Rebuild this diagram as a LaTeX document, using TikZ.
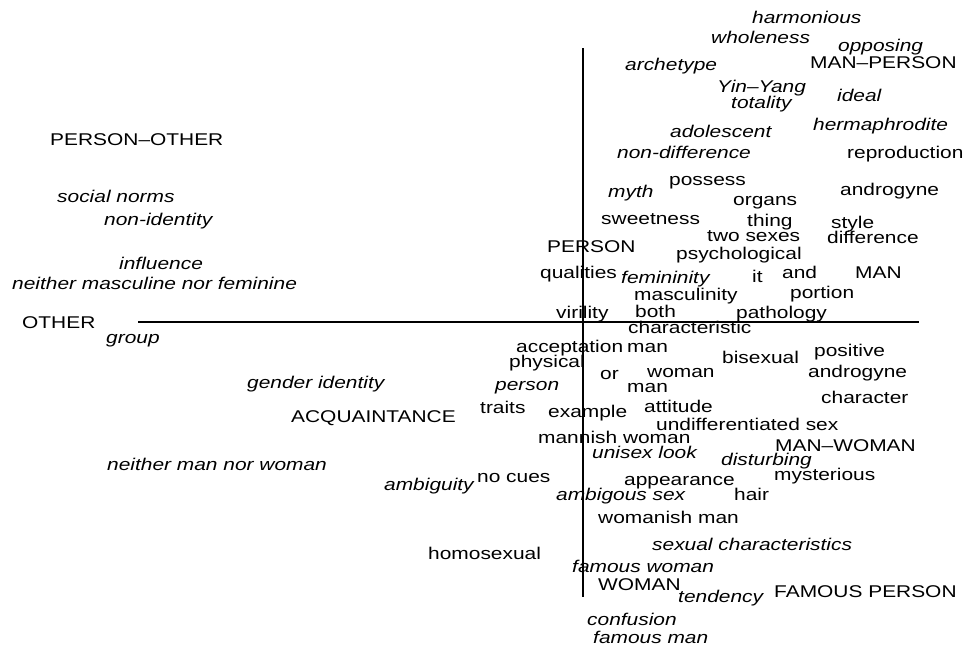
\documentclass[tikz,border=0pt]{standalone}
\usepackage{fontspec}
\setmainfont[FakeStretch=1.23]{Liberation Sans}
\begin{document}
\begin{tikzpicture}[x=1pt,y=-1pt,
  wd/.style={anchor=base west,inner sep=0pt,font=\fontsize{17}{20}\selectfont},
  iw/.style={wd,font=\fontsize{17}{20}\selectfont\itshape},
  vaxis/.style={line width=2.4pt,black},
  haxis/.style={line width=1.3pt,black}]
\useasboundingbox (0,0) rectangle (967,649);
% axes
\coordinate (vt) at (583,48);
\coordinate (vb) at (583,597);
\coordinate (hl) at (138,322);
\coordinate (hr) at (919,322);
\draw[vaxis] (vt) -- (vb);
\draw[haxis] (hl) -- (hr);
% top region
\node[iw] (harmonious) at (752,23) {harmonious};
\node[iw] (wholeness) at (711,43) {wholeness};
\node[iw] (opposing) at (838,51) {opposing};
\node[wd] (manperson) at (810,68) {MAN--PERSON};
\node[iw] (archetype) at (625,70) {archetype};
\node[iw] (yinyang) at (717,92) {Yin--Yang};
\node[iw] (totality) at (731,108) {totality};
\node[iw] (ideal) at (837,101) {ideal};
\node[iw] (adolescent) at (670,137) {adolescent};
\node[iw] (hermaphrodite) at (813,130) {hermaphrodite};
\node[iw] (nondifference) at (617,158) {non-difference};
\node[wd] (reproduction) at (847,158) {reproduction};
% upper middle
\node[wd] (possess) at (669,185) {possess};
\node[iw] (myth) at (608,197) {myth};
\node[wd] (androgyneA) at (840,195) {androgyne};
\node[wd] (organs) at (733,205) {organs};
\node[wd] (sweetness) at (601,224) {sweetness};
\node[wd] (thing) at (747,226) {thing};
\node[wd] (style) at (831,228) {style};
\node[wd] (twosexes) at (707,241) {two sexes};
\node[wd] (difference) at (827,243) {difference};
\node[wd] (person) at (547,252) {PERSON};
\node[wd] (psychological) at (676,259) {psychological};
\node[wd] (qualities) at (540,278) {qualities};
\node[iw] (femininity) at (621,283) {femininity};
\node[wd] (it) at (752,282) {it};
\node[wd] (and) at (782,278) {and};
\node[wd] (man) at (855,278) {MAN};
\node[wd] (masculinity) at (634,300) {masculinity};
\node[wd] (portion) at (790,298) {portion};
\node[wd] (virility) at (556,318) {virility};
\node[wd] (both) at (635,317) {both};
\node[wd] (pathology) at (736,318) {pathology};
% lower middle
\node[wd] (characteristic) at (628,333) {characteristic};
\node[wd] (acceptation) at (516,352) {acceptation};
\node[wd] (manA) at (627,352) {man};
\node[wd] (physical) at (509,367) {physical};
\node[wd] (bisexual) at (722,363) {bisexual};
\node[wd] (positive) at (814,356) {positive};
\node[wd] (or) at (600,379) {or};
\node[wd] (woman) at (647,377) {woman};
\node[wd] (androgyneB) at (808,377) {androgyne};
\node[iw] (personi) at (495,390) {person};
\node[wd] (manB) at (627,392) {man};
\node[wd] (character) at (821,403) {character};
\node[wd] (traits) at (480,413) {traits};
\node[wd] (example) at (548,417) {example};
\node[wd] (attitude) at (644,412) {attitude};
\node[wd] (undiff) at (656,430) {undifferentiated sex};
\node[wd] (mannish) at (538,443) {mannish woman};
\node[wd] (manwoman) at (775,451) {MAN--WOMAN};
\node[iw] (unisex) at (592,458) {unisex look};
\node[iw] (disturbing) at (721,465) {disturbing};
\node[wd] (mysterious) at (774,480) {mysterious};
\node[wd] (nocues) at (477,482) {no cues};
\node[iw] (ambiguity) at (384,490) {ambiguity};
\node[wd] (appearance) at (624,485) {appearance};
\node[iw] (ambigous) at (556,500) {ambigous sex};
\node[wd] (hair) at (734,500) {hair};
\node[wd] (womanish) at (598,523) {womanish man};
\node[iw] (sexchar) at (652,550) {sexual characteristics};
\node[wd] (homosexual) at (428,559) {homosexual};
\node[iw] (famouswoman) at (572,572) {famous woman};
\node[wd] (womanC) at (598,590) {WOMAN};
\node[iw] (tendency) at (678,602) {tendency};
\node[wd] (famousperson) at (774,597) {FAMOUS PERSON};
\node[iw] (confusion) at (587,625) {confusion};
\node[iw] (famousman) at (593,643) {famous man};
% left region
\node[wd] (personother) at (50,145) {PERSON--OTHER};
\node[iw] (socialnorms) at (57,202) {social norms};
\node[iw] (nonidentity) at (104,225) {non-identity};
\node[iw] (influence) at (119,269) {influence};
\node[iw] (neithermasc) at (12,289) {neither masculine nor feminine};
\node[wd] (other) at (22,328) {OTHER};
\node[iw] (group) at (106,343) {group};
\node[iw] (genderid) at (247,388) {gender identity};
\node[wd] (acquaintance) at (291,422) {ACQUAINTANCE};
\node[iw] (neitherman) at (107,470) {neither man nor woman};
\end{tikzpicture}
\end{document}
